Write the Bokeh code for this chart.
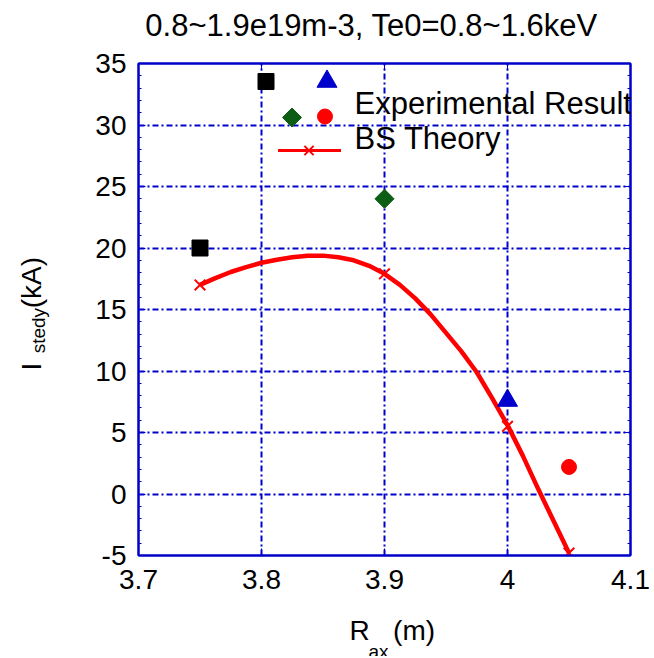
import numpy as np
from bokeh.plotting import figure
from bokeh.models import Range1d, LinearAxis, Label, FixedTicker, Title
from bokeh.embed import file_html
from bokeh.resources import INLINE

# ---- data ----
sq_x = [3.75]
sq_y = [20.0]
tri_x = [4.0]
tri_y = [7.6]
dia_x = [3.9]
dia_y = [24.0]
cir_x = [4.05]
cir_y = [2.2]

bs_x = [3.75, 3.9, 4.0, 4.05]
bs_y = [17.0, 17.9, 5.5, -4.8]

curve_x = [3.75, 3.7625, 3.775, 3.7875, 3.8, 3.8125, 3.825, 3.8375, 3.85, 3.8625,
           3.875, 3.8875, 3.9, 3.9125, 3.925, 3.9375, 3.95, 3.9625, 3.975, 3.9875,
           4.0, 4.0125, 4.025, 4.0375, 4.05]
curve_y = [17.0, 17.55, 18.05, 18.45, 18.8, 19.05, 19.25, 19.37, 19.38, 19.25,
           19.0, 18.55, 17.9, 17.0, 15.9, 14.6, 13.1, 11.6, 9.9, 7.8,
           5.6, 3.1, 0.4, -2.2, -4.8]

x_ticks = [3.7, 3.8, 3.9, 4.0, 4.1]
x_tick_labels = ["3.7", "3.8", "3.9", "4", "4.1"]
y_ticks = [-5, 0, 5, 10, 15, 20, 25, 30, 35]
y_tick_labels = ["-5", "0", "5", "10", "15", "20", "25", "30", "35"]

NB = "\u00a0"
title_text = "0.8~1.9e19m-3, Te0=0.8~1.6keV"
legend_exp = "Experimental Result"
legend_bs = "BS Theory"
xlabel_main = NB * 2 + "R" + NB * 3 + "(m)"
xlabel_sub = "ax"
ylabel_main = "I" + NB * 7 + "(kA)"
ylabel_sub = "stedy"

FONT = "Liberation Sans"
BLUE = "#0000CC"
GREEN = "#0B5E14"
RED = "#FF0000"
FW, FH = 492, 492
BL, BT, BR, BB = 138, 63, 20, 101

p = figure(x_range=Range1d(3.7, 4.1), y_range=Range1d(-5, 35),
           frame_width=FW, frame_height=FH,
           min_border_left=BL, min_border_right=BR,
           min_border_top=BT, min_border_bottom=BB,
           output_backend="svg", toolbar_location=None)
p.extra_x_ranges = {"px": Range1d(0, FW)}
p.extra_y_ranges = {"py": Range1d(0, FH)}

p.background_fill_color = "white"
p.border_fill_color = "white"
p.outline_line_color = BLUE
p.outline_line_width = 2

# grids
for g, t in ((p.xgrid, x_ticks), (p.ygrid, y_ticks)):
    g.ticker = FixedTicker(ticks=t)
    g.grid_line_color = BLUE
    g.grid_line_width = 2
    g.grid_line_dash = "6 3 2 3"

minor_y = list(np.arange(-5, 35.01, 1.0))

# axes (keep explicit references to each)
xb = p.xaxis[0]
yl = p.yaxis[0]
ax_r = LinearAxis(ticker=FixedTicker(ticks=y_ticks, minor_ticks=minor_y))
ax_t = LinearAxis(ticker=FixedTicker(ticks=x_ticks))

xb.ticker = FixedTicker(ticks=x_ticks)
xb.major_label_overrides = {t: l for t, l in zip(x_ticks, x_tick_labels)}
yl.ticker = FixedTicker(ticks=y_ticks, minor_ticks=minor_y)
yl.major_label_overrides = {t: l for t, l in zip(y_ticks, y_tick_labels)}

for ax in (xb, yl, ax_r, ax_t):
    ax.axis_line_color = BLUE
    ax.axis_line_width = 2
    ax.major_tick_line_color = BLUE
    ax.minor_tick_line_color = BLUE
    ax.major_tick_in = 7
    ax.major_tick_out = 0
    ax.minor_tick_in = 3
    ax.minor_tick_out = 0
    ax.major_label_text_font = FONT
    ax.major_label_text_font_size = "28px"
    ax.major_label_text_color = "black"
    ax.axis_label_text_font = FONT
    ax.axis_label_text_font_style = "normal"
    ax.axis_label_text_color = "black"
xb.minor_tick_line_color = None
ax_t.minor_tick_line_color = None
xb.major_label_standoff = 14
yl.major_label_standoff = 12
for ax in (ax_r, ax_t):
    ax.major_label_text_color = None
    ax.major_label_standoff = 0

# chart title, carried by the top axis label (shifted left with trailing spaces)
ax_t.axis_label = title_text + NB * 3
ax_t.axis_label_text_font_size = "31px"
ax_t.axis_label_standoff = 21

# axis labels (subscript parts placed as extra rows)
xb.axis_label = xlabel_main
xb.axis_label_text_font_size = "28px"
xb.axis_label_standoff = 23
yl.axis_label = ylabel_sub + NB * 8
yl.axis_label_text_font_size = "19px"
yl.axis_label_standoff = 43

p.add_layout(ax_r, "right")
p.add_layout(ax_t, "above")


def side_title(text, size, side, offset, standoff):
    t = Title(text=text, align="left", offset=offset, standoff=standoff,
              text_font=FONT, text_font_size=size, text_font_style="normal",
              text_color="black")
    p.add_layout(t, side)


side_title(xlabel_sub, "19px", "below", 230, -20)
side_title(ylabel_main, "28px", "left", 185, -43)

# BS theory curve
p.line(curve_x, curve_y, line_color=RED, line_width=4.5)
p.scatter(bs_x, bs_y, marker="x", size=15, line_color=RED, line_width=2)

# experimental points
p.scatter(sq_x, sq_y, marker="square", size=16, fill_color="black", line_color="black")
p.scatter(tri_x, tri_y, marker="triangle", size=20, fill_color=BLUE, line_color=BLUE)
p.scatter(dia_x, dia_y, marker="square", angle=np.pi / 4, size=13.5, fill_color=GREEN, line_color=GREEN)
p.scatter(cir_x, cir_y, marker="circle", size=15, fill_color=RED, line_color=RED)

# ---- legend (frame pixel coordinates) ----
kw = dict(x_range_name="px", y_range_name="py")
p.scatter([127.5], [474], marker="square", size=16, fill_color="black", line_color="black", **kw)
p.scatter([188.5], [474], marker="triangle", size=20, fill_color=BLUE, line_color=BLUE, **kw)
p.scatter([153.5], [438], marker="square", angle=np.pi / 4, size=13.5, fill_color=GREEN, line_color=GREEN, **kw)
p.scatter([186.5], [439], marker="circle", size=15, fill_color=RED, line_color=RED, **kw)
p.line([139.5, 202.5], [405, 405], line_color=RED, line_width=3, **kw)
p.scatter([170.5], [405], marker="x", size=13, line_color=RED, line_width=2, **kw)


def lab_frame(x, y, text, size):
    p.add_layout(Label(x=x, y=y, text=text, text_font=FONT, text_font_size=size,
                       text_align="left", text_baseline="middle",
                       text_color="black", **kw))


lab_frame(216, 452, legend_exp, "31px")
lab_frame(216, 417, legend_bs, "31px")

open("out.html", "w").write(file_html(p, INLINE))
